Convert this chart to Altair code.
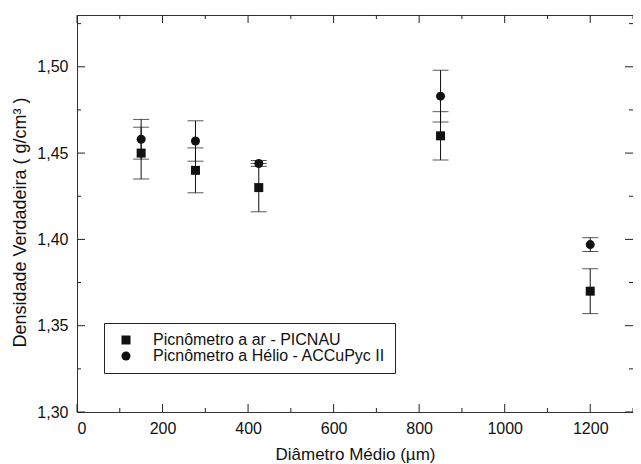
import altair as alt
import pandas as pd

# ---- data ----
diam = [150, 277, 425, 850, 1200]
ar_vals = [1.450, 1.440, 1.430, 1.460, 1.370]
ar_err = [0.015, 0.013, 0.014, 0.014, 0.013]
he_vals = [1.458, 1.457, 1.444, 1.483, 1.397]
he_err = [0.0115, 0.0117, 0.0017, 0.015, 0.004]
series_names = ["Picnômetro a ar - PICNAU", "Picnômetro a Hélio - ACCuPyc II"]
series_shapes = ["square", "circle"]

x_major = [0, 200, 400, 600, 800, 1000, 1200]
x_minor = [100, 300, 500, 700, 900, 1100, 1300]
y_major = [1.30, 1.35, 1.40, 1.45, 1.50]
y_minor = [1.325, 1.375, 1.425, 1.475, 1.525]

W, H = 556, 397
FONT = "Liberation Sans"

rows = []
for name, vals, errs in [(series_names[0], ar_vals, ar_err), (series_names[1], he_vals, he_err)]:
    for d, v, e in zip(diam, vals, errs):
        rows.append({"serie": name, "d": d, "v": v, "e": e})
df = pd.DataFrame(rows)

xs = alt.Scale(domain=[0, 1300], nice=False, zero=False)
ys = alt.Scale(domain=[1.30, 1.53], nice=False, zero=False)

x_axis = alt.Axis(
    title="Diâmetro Médio (µm)",
    values=x_major,
    format="d",
    ticks=False,
    domain=False,
    grid=False,
    labelPadding=8,
    titlePadding=10,
)
y_axis = alt.Axis(
    title="Densidade Verdadeira ( g/cm³ )",
    values=y_major,
    labelExpr="replace(format(datum.value, '.2f'), '.', ',')",
    ticks=False,
    domain=False,
    grid=False,
    labelPadding=9,
    titlePadding=7,
    titleY=207,
    titleFontSize=18,
)

base = alt.Chart(df).transform_calculate(lo="datum.v - datum.e", hi="datum.v + datum.e")

bars = base.mark_rule(color="#111", strokeWidth=1).encode(
    x=alt.X("d:Q", scale=xs, axis=x_axis),
    y=alt.Y("lo:Q", scale=ys, axis=y_axis),
    y2="hi:Q",
)
cap_lo = base.mark_tick(color="#111", orient="horizontal", size=16, thickness=1).encode(
    x=alt.X("d:Q", scale=xs, axis=x_axis),
    y=alt.Y("lo:Q", scale=ys, axis=y_axis),
)
cap_hi = base.mark_tick(color="#111", orient="horizontal", size=16, thickness=1).encode(
    x=alt.X("d:Q", scale=xs, axis=x_axis),
    y=alt.Y("hi:Q", scale=ys, axis=y_axis),
)

points = alt.Chart(df).mark_point(filled=True, color="#111", opacity=1, size=81).encode(
    x=alt.X("d:Q", scale=xs, axis=x_axis),
    y=alt.Y("v:Q", scale=ys, axis=y_axis),
    shape=alt.Shape(
        "serie:N",
        scale=alt.Scale(domain=series_names, range=series_shapes),
        legend=alt.Legend(
            title=None,
            orient="none",
            legendX=27,
            legendY=308,
            strokeColor="#222",
            padding=9,
            symbolOffset=5,
            labelOffset=19,
            rowPadding=-2,
            symbolSize=81,
            labelLimit=400,
            labelFont=FONT,
            labelFontSize=16,
            labelColor="#111",
            symbolFillColor="#111",
            symbolStrokeColor="#111",
            labelExpr="datum.label + '\u2007\u2007'",
        ),
    ),
)

def tick_layer(vals, axis_ch, side, length):
    tdf = pd.DataFrame({"t": vals})
    c = alt.Chart(tdf).mark_rule(color="#222", strokeWidth=1)
    if axis_ch == "x":
        enc = {"x": alt.X("t:Q", scale=xs, axis=x_axis)}
        if side == "bottom":
            enc.update(y=alt.value(H), y2=alt.value(H - length))
        else:
            enc.update(y=alt.value(0), y2=alt.value(length))
    else:
        enc = {"y": alt.Y("t:Q", scale=ys, axis=y_axis)}
        if side == "left":
            enc.update(x=alt.value(0), x2=alt.value(length))
        else:
            enc.update(x=alt.value(W), x2=alt.value(W - length))
    return c.encode(**enc)

ticks = [
    tick_layer(x_major, "x", "bottom", 8),
    tick_layer(x_minor, "x", "bottom", 4),
    tick_layer(x_major, "x", "top", 8),
    tick_layer(x_minor, "x", "top", 4),
    tick_layer(y_major, "y", "left", 8),
    tick_layer(y_minor, "y", "left", 4),
    tick_layer(y_major, "y", "right", 8),
    tick_layer(y_minor, "y", "right", 4),
]

chart = alt.layer(bars, cap_lo, cap_hi, points, *ticks).properties(
    width=W,
    height=H,
    background="white",
    autosize=alt.AutoSizeParams(type="none"),
    padding={"left": 69, "top": 7, "right": 0, "bottom": 52},
).configure_view(
    stroke="#333", strokeWidth=1
).configure_axis(
    labelFont=FONT, labelFontSize=16, labelColor="#111",
    titleFont=FONT, titleFontSize=17, titleColor="#111", titleFontWeight="normal",
)

chart.save("out.html", embed_options={"renderer": "svg", "actions": False})
